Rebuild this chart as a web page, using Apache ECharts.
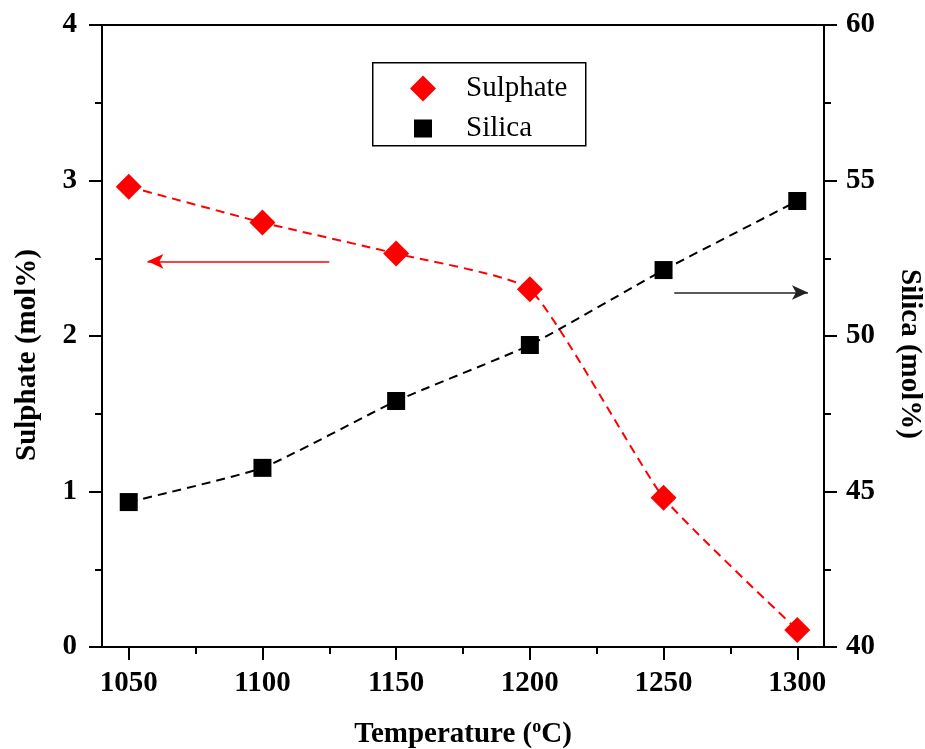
<!DOCTYPE html>
<html>
<head>
<meta charset="utf-8">
<script src="https://cdn.jsdelivr.net/npm/echarts@6/dist/echarts.min.js"></script>
<style>
  html, body { margin: 0; padding: 0; background: #fff; }
  #chart { width: 925px; height: 749px; }
</style>
</head>
<body>
<div id="chart"></div>
<script>
// Calcination temperature (°C)
const temperatures = [1050, 1100, 1150, 1200, 1250, 1300];
// Sulphate content (mol%), left axis
const sulphate = [2.96, 2.73, 2.53, 2.30, 0.96, 0.11];
// Silica content (mol%), right axis
const silica = [44.66, 45.76, 47.91, 49.71, 52.12, 54.34];
// Axis tick values
const xMajorTicks = [1050, 1100, 1150, 1200, 1250, 1300];
const xMinorTicks = [1075, 1125, 1175, 1225, 1275];
const leftMinorTicks = [0.5, 1.5, 2.5, 3.5];
const rightMinorTicks = [42.5, 47.5, 52.5, 57.5];
// Direction arrows: [x from, x to, y]
const sulphateArrow = [1125, 1057, 2.48];
const silicaArrow = [1254, 1304, 51.4];

const FONT = '"Liberation Serif", "Times New Roman", serif';
const AXIS_LINE = { show: true, lineStyle: { color: '#000', width: 2 } };
const MAJOR_TICK = { show: true, inside: false, length: 13, lineStyle: { width: 2, color: '#000' } };
const TICK_LABEL = { fontFamily: FONT, fontWeight: 'bold', fontSize: 29, color: '#000', formatter: (v) => String(v) };

const chart = echarts.init(document.getElementById('chart'));

const pairs = (ys) => temperatures.map((t, i) => [t, ys[i]]);

// Axis carrying only short outward ticks at the given values
const minorAxis = (base, ticks) => Object.assign({
  type: 'value',
  axisLine: { show: false },
  axisTick: { show: true, inside: false, length: 7, lineStyle: { width: 2, color: '#000' }, customValues: ticks },
  axisLabel: { show: false },
  splitLine: { show: false }
}, base);

chart.setOption({
  backgroundColor: '#fff',
  animation: false,
  grid: { left: 102, right: 101, top: 25, bottom: 102, containLabel: false, outerBoundsMode: 'none' },
  xAxis: [
    {
      type: 'value', position: 'bottom', min: 1040, max: 1310,
      axisLine: AXIS_LINE,
      axisTick: Object.assign({}, MAJOR_TICK, { customValues: xMajorTicks }),
      axisLabel: Object.assign({}, TICK_LABEL, { margin: 22, customValues: xMajorTicks }),
      splitLine: { show: false },
      name: 'Temperature ({sup|o}C)', nameLocation: 'middle', nameGap: 71,
      nameTextStyle: {
        fontFamily: FONT, fontWeight: 'bold', fontSize: 29, color: '#000',
        rich: { sup: { fontFamily: FONT, fontWeight: 'bold', fontSize: 18, color: '#000', verticalAlign: 'top', padding: [0, 0, 16, 0] } }
      }
    },
    minorAxis({ position: 'bottom', min: 1040, max: 1310 }, xMinorTicks),
    {
      type: 'value', position: 'top', min: 1040, max: 1310,
      axisLine: AXIS_LINE,
      axisTick: { show: false },
      axisLabel: { show: false },
      splitLine: { show: false }
    }
  ],
  yAxis: [
    {
      type: 'value', position: 'left', min: 0, max: 4, interval: 1,
      axisLine: AXIS_LINE,
      axisTick: MAJOR_TICK,
      axisLabel: Object.assign({}, TICK_LABEL, { margin: 25 }),
      splitLine: { show: false }
    },
    {
      type: 'value', position: 'right', min: 40, max: 60, interval: 5,
      axisLine: AXIS_LINE,
      axisTick: MAJOR_TICK,
      axisLabel: Object.assign({}, TICK_LABEL, { margin: 22 }),
      splitLine: { show: false }
    },
    minorAxis({ position: 'left', min: 0, max: 4 }, leftMinorTicks),
    minorAxis({ position: 'right', min: 40, max: 60 }, rightMinorTicks)
  ],
  legend: [
    {
      data: [{ name: 'Sulphate', icon: 'diamond' }],
      left: 410, top: 74, padding: 0, itemWidth: 26, itemHeight: 26,
      textStyle: { fontFamily: FONT, fontSize: 29, color: '#000', padding: [0, 0, 0, 25] },
      selectedMode: false
    },
    {
      data: [{ name: 'Silica', icon: 'rect' }],
      left: 414, top: 114, padding: 0, itemWidth: 18, itemHeight: 18,
      textStyle: { fontFamily: FONT, fontSize: 29, color: '#000', padding: [0, 0, 0, 29] },
      selectedMode: false
    }
  ],
  graphic: [
    {
      type: 'rect', left: 372, top: 62, z: 0,
      shape: { width: 213, height: 83 },
      style: { fill: '#fff', stroke: '#000', lineWidth: 1.5 }
    },
    {
      type: 'text', x: 28, y: 355, rotation: Math.PI / 2,
      style: { text: 'Sulphate (mol%)', fontFamily: FONT, fontWeight: 'bold', fontSize: 29, fill: '#000', align: 'center', verticalAlign: 'middle' }
    },
    {
      type: 'text', x: 909, y: 354, rotation: -Math.PI / 2,
      style: { text: 'Silica (mol%)', fontFamily: FONT, fontWeight: 'bold', fontSize: 29, fill: '#000', align: 'center', verticalAlign: 'middle' }
    }
  ],
  series: [
    {
      name: 'Sulphate', type: 'line', xAxisIndex: 0, yAxisIndex: 0,
      data: pairs(sulphate),
      smooth: 0.15,
      symbol: 'diamond', symbolSize: 26,
      itemStyle: { color: '#ff0000' },
      lineStyle: { color: '#ff0000', width: 2, type: [9, 6] },
      z: 3,
      markLine: {
        silent: true, symbol: ['none', 'arrow'], symbolSize: [11, 16],
        label: { show: false },
        lineStyle: { color: '#ff0000', width: 1.5, type: 'solid' },
        data: [[{ coord: [sulphateArrow[0], sulphateArrow[2]] }, { coord: [sulphateArrow[1], sulphateArrow[2]] }]]
      }
    },
    {
      name: 'Silica', type: 'line', xAxisIndex: 0, yAxisIndex: 1,
      data: pairs(silica),
      smooth: 0.15,
      symbol: 'rect', symbolSize: 18,
      itemStyle: { color: '#000' },
      lineStyle: { color: '#000', width: 2, type: [9, 6] },
      z: 3,
      markLine: {
        silent: true, symbol: ['none', 'arrow'], symbolSize: [11, 16],
        label: { show: false },
        lineStyle: { color: '#222', width: 1.5, type: 'solid' },
        data: [[{ coord: [silicaArrow[0], silicaArrow[2]] }, { coord: [silicaArrow[1], silicaArrow[2]] }]]
      }
    }
  ]
});
</script>
</body>
</html>
